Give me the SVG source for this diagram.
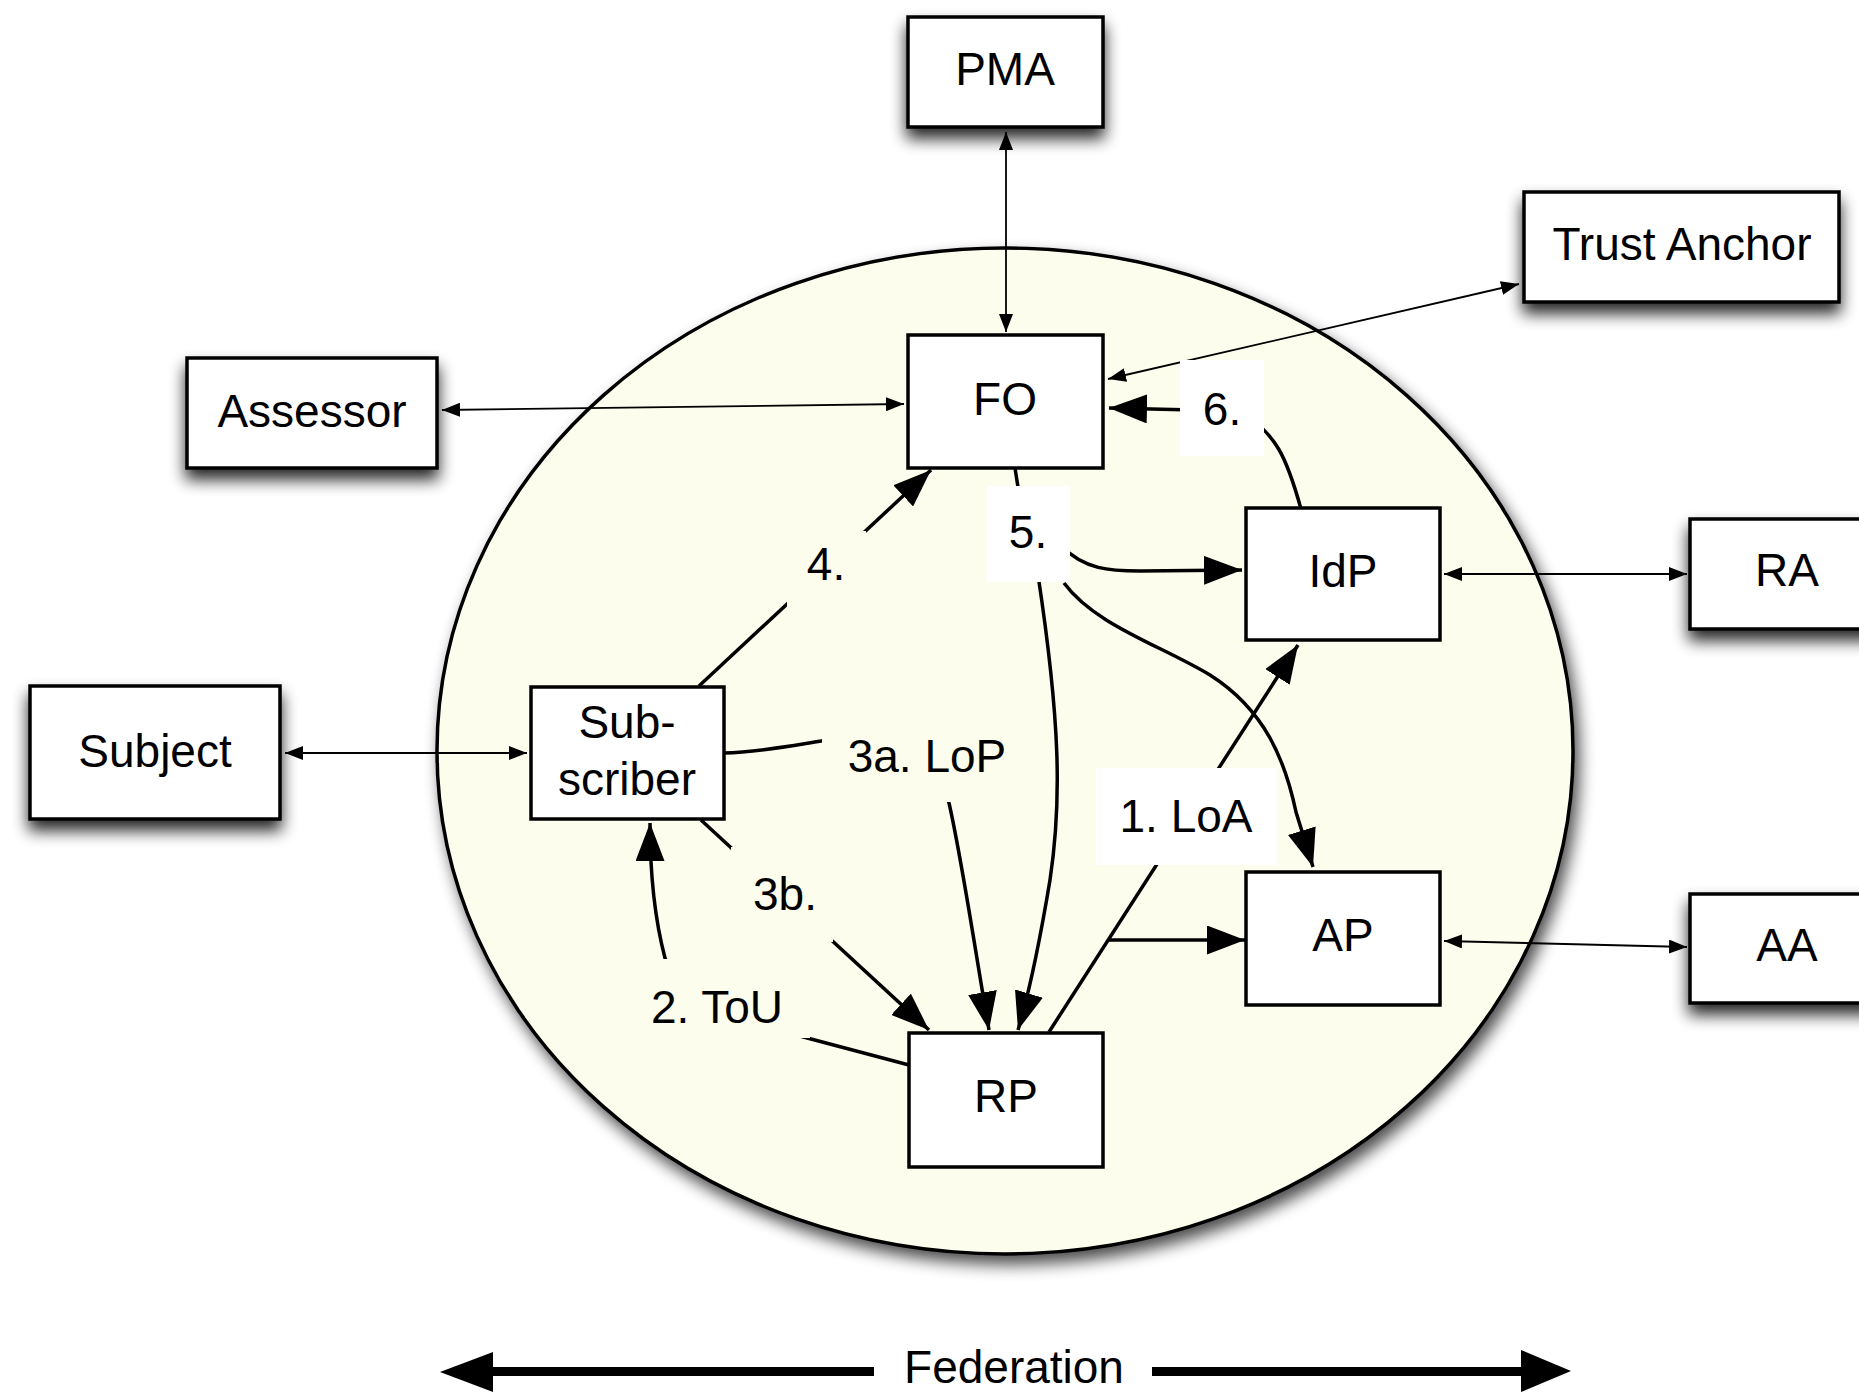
<svg xmlns="http://www.w3.org/2000/svg" width="1859" height="1392" viewBox="0 0 1859 1392">
<style>
.box{fill:#fff;stroke:#000;stroke-width:3.5}
.t{font-family:"Liberation Sans",Arial,sans-serif;font-size:46px;fill:#000;text-anchor:middle}
.thin{fill:none;stroke:#000;stroke-width:1.8;marker-start:url(#sm);marker-end:url(#sm)}
.thick{fill:none;stroke:#000;stroke-width:3.5}
.arr{marker-end:url(#big)}
.lw{fill:#fff}
.ly{fill:#FCFDEC}
</style>
<defs>
<marker id="big" markerUnits="userSpaceOnUse" viewBox="0 0 38 29" markerWidth="38" markerHeight="29" refX="38" refY="14.5" orient="auto"><path d="M0,0 L38,14.5 L0,29 Z" fill="#000"/></marker>
<marker id="sm" markerUnits="userSpaceOnUse" viewBox="0 0 18 14" markerWidth="18" markerHeight="14" refX="18" refY="7" orient="auto-start-reverse"><path d="M0,0 L18,7 L0,14 Z" fill="#000"/></marker>
<filter id="sh" x="-20%" y="-30%" width="140%" height="180%"><feGaussianBlur in="SourceAlpha" stdDeviation="8"/><feOffset dx="0" dy="10"/><feComponentTransfer><feFuncA type="linear" slope="0.85"/></feComponentTransfer><feMerge><feMergeNode/><feMergeNode in="SourceGraphic"/></feMerge></filter>
<filter id="esh" x="-10%" y="-10%" width="125%" height="125%"><feGaussianBlur in="SourceAlpha" stdDeviation="8"/><feOffset dx="5" dy="9"/><feComponentTransfer><feFuncA type="linear" slope="0.7"/></feComponentTransfer><feMerge><feMergeNode/><feMergeNode in="SourceGraphic"/></feMerge></filter>
</defs>
<rect width="1859" height="1392" fill="#fff"/>
<g id="federation-area">
<ellipse cx="1005" cy="751" rx="568" ry="503" fill="#FCFDEC" stroke="#000" stroke-width="3.5" filter="url(#esh)"/>
</g>
<g id="connectors">
<path class="thin" d="M1006,132 L1006,332"/>
<path class="thin" d="M1519,284 L1108,379"/>
<path class="thin" d="M442,410 L904,404"/>
<path class="thin" d="M285,753 L527,753"/>
<path class="thin" d="M1444,574 L1687,574"/>
<path class="thin" d="M1444,941 L1687,947"/>
<path class="thick arr" d="M1301,509 C1288,462 1276,428 1235,411 L1109,408"/>
<path class="thick" d="M1015,468 L1020,500"/>
<path class="thick arr" d="M1060,545 C1085,570 1110,571 1140,571 L1242,570"/>
<path class="thick arr" d="M1064,583 C1095,625 1160,645 1210,675 C1265,710 1285,760 1296,812 L1313,867"/>
<path class="thick arr" d="M1038,575 C1060,720 1062,800 1050,880 C1040,940 1030,990 1018,1030"/>
<path class="thick arr" d="M699,686 L931,470"/>
<path class="thick arr" d="M724,753 C760,752 790,746 821,741 C880,730 935,760 949,803 C962,860 975,950 989,1030"/>
<path class="thick arr" d="M701,820 L929,1030"/>
<path class="thick arr" d="M909,1065 L811,1039 C740,1020 675,1000 665,958 C655,920 650,880 650,823"/>
<path class="thick arr" d="M1049,1032 L1298,645"/>
<path class="thick arr" d="M1109,940 L1245,940"/>
<rect class="lw" x="1180" y="360" width="84" height="96"/>
<text class="t" x="1222" y="425">6.</text>
<rect class="lw" x="987" y="486" width="83" height="96"/>
<text class="t" x="1028" y="548">5.</text>
<rect class="ly" x="787" y="531" width="79" height="76"/>
<text class="t" x="826" y="580">4.</text>
<rect class="ly" x="822" y="722" width="186" height="80"/>
<text class="t" x="927" y="772">3a. LoP</text>
<rect class="lw" x="1096" y="768" width="181" height="97"/>
<text class="t" x="1186" y="832">1. LoA</text>
<rect class="ly" x="731" y="847" width="102" height="95"/>
<text class="t" x="785" y="910">3b.</text>
<rect class="ly" x="645" y="959" width="165" height="79"/>
<text class="t" x="717" y="1023">2. ToU</text>
</g>
<g id="node-pma"><rect class="box" x="908" y="17" width="195" height="110" filter="url(#sh)"/><text class="t" x="1005" y="85">PMA</text></g>
<g id="node-trust-anchor"><rect class="box" x="1524" y="192" width="315" height="110" filter="url(#sh)"/><text class="t" x="1682" y="260">Trust Anchor</text></g>
<g id="node-assessor"><rect class="box" x="187" y="358" width="250" height="110" filter="url(#sh)"/><text class="t" x="312" y="427">Assessor</text></g>
<g id="node-subject"><rect class="box" x="30" y="686" width="250" height="133" filter="url(#sh)"/><text class="t" x="155" y="767">Subject</text></g>
<g id="node-ra"><rect class="box" x="1690" y="519" width="200" height="110" filter="url(#sh)"/><text class="t" x="1787" y="586">RA</text></g>
<g id="node-aa"><rect class="box" x="1690" y="894" width="200" height="109" filter="url(#sh)"/><text class="t" x="1787" y="961">AA</text></g>
<g id="node-fo"><rect class="box" x="908" y="335" width="195" height="133"/><text class="t" x="1005" y="415">FO</text></g>
<g id="node-idp"><rect class="box" x="1246" y="508" width="194" height="132"/><text class="t" x="1343" y="587">IdP</text></g>
<g id="node-subscriber"><rect class="box" x="531" y="687" width="193" height="132"/><text class="t" x="627" y="738">Sub-</text><text class="t" x="627" y="795">scriber</text></g>
<g id="node-ap"><rect class="box" x="1246" y="872" width="194" height="133"/><text class="t" x="1343" y="951">AP</text></g>
<g id="node-rp"><rect class="box" x="909" y="1033" width="194" height="134"/><text class="t" x="1006" y="1112">RP</text></g>
<g id="federation-arrow">
<rect x="493" y="1367" width="381" height="9" fill="#000"/>
<rect x="1152" y="1367" width="369" height="9" fill="#000"/>
<polygon points="440,1372 493,1352 493,1392" fill="#000"/>
<polygon points="1571,1371 1521,1350 1521,1392" fill="#000"/>
<text class="t" x="1014" y="1383">Federation</text>
</g>
</svg>
